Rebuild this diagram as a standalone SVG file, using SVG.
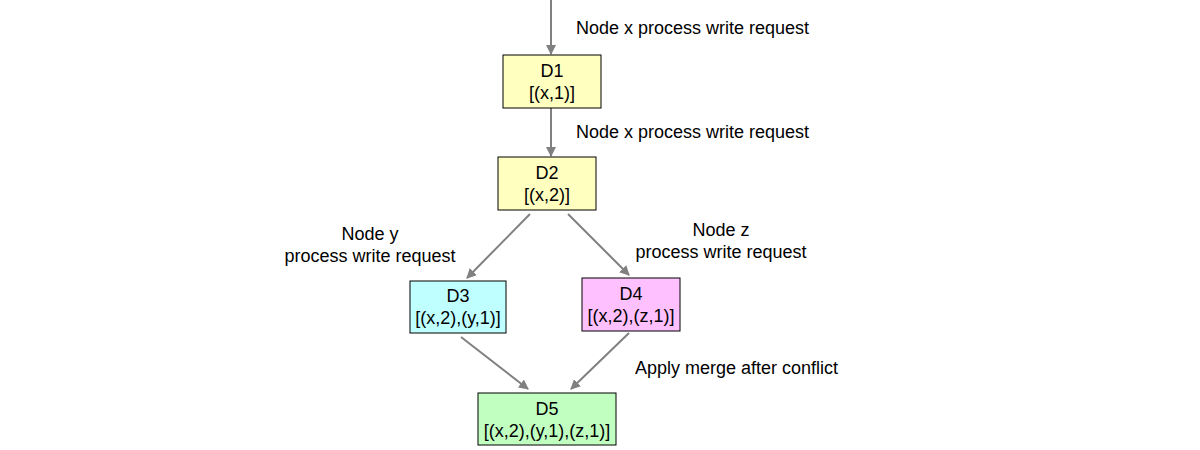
<svg xmlns="http://www.w3.org/2000/svg" width="1200" height="450" viewBox="0 0 1200 450">
<style>
text{font-family:"Liberation Sans",Arial,sans-serif;font-size:18px;fill:#000}
.n{text-anchor:middle}
.b{stroke:#000;stroke-width:1}
.e{stroke:#808080;stroke-width:2;fill:none;marker-end:url(#a)}
</style>
<defs><marker id="a" markerWidth="10" markerHeight="10" refX="9" refY="5" orient="auto" markerUnits="userSpaceOnUse"><path d="M0,0L10,5L0,10z" fill="#808080"/></marker></defs>
<rect width="1200" height="450" fill="#fff"/>
<g id="connectors">
<line class="e" x1="551" y1="0" x2="551" y2="54"/>
<line class="e" x1="551" y1="108" x2="551" y2="156"/>
<line class="e" x1="530" y1="214" x2="467" y2="278"/>
<line class="e" x1="568" y1="214" x2="629" y2="275"/>
<line class="e" x1="461" y1="337" x2="528" y2="389"/>
<line class="e" x1="629" y1="333" x2="571" y2="389"/>
</g>
<text x="576" y="34">Node x process write request</text>
<text x="576" y="138">Node x process write request</text>
<text class="n" x="370" y="240">Node y</text>
<text class="n" x="370" y="262">process write request</text>
<text class="n" x="721" y="236">Node z</text>
<text class="n" x="721" y="258">process write request</text>
<text x="635" y="374">Apply merge after conflict</text>
<g id="D1"><rect class="b" x="503" y="55" width="98" height="53" fill="#ffffc0"/><text class="n" x="552" y="77">D1</text><text class="n" x="552" y="99">[(x,1)]</text></g>
<g id="D2"><rect class="b" x="498" y="157" width="98" height="53" fill="#ffffc0"/><text class="n" x="547" y="179">D2</text><text class="n" x="547" y="201">[(x,2)]</text></g>
<g id="D3"><rect class="b" x="410" y="281" width="96" height="52" fill="#c0ffff"/><text class="n" x="458" y="302">D3</text><text class="n" x="458" y="324">[(x,2),(y,1)]</text></g>
<g id="D4"><rect class="b" x="582" y="278" width="98" height="53" fill="#ffc0ff"/><text class="n" x="631" y="300">D4</text><text class="n" x="631" y="322">[(x,2),(z,1)]</text></g>
<g id="D5"><rect class="b" x="478" y="393" width="138" height="52" fill="#c0ffc0"/><text class="n" x="547" y="415">D5</text><text class="n" x="547" y="437">[(x,2),(y,1),(z,1)]</text></g>
</svg>
